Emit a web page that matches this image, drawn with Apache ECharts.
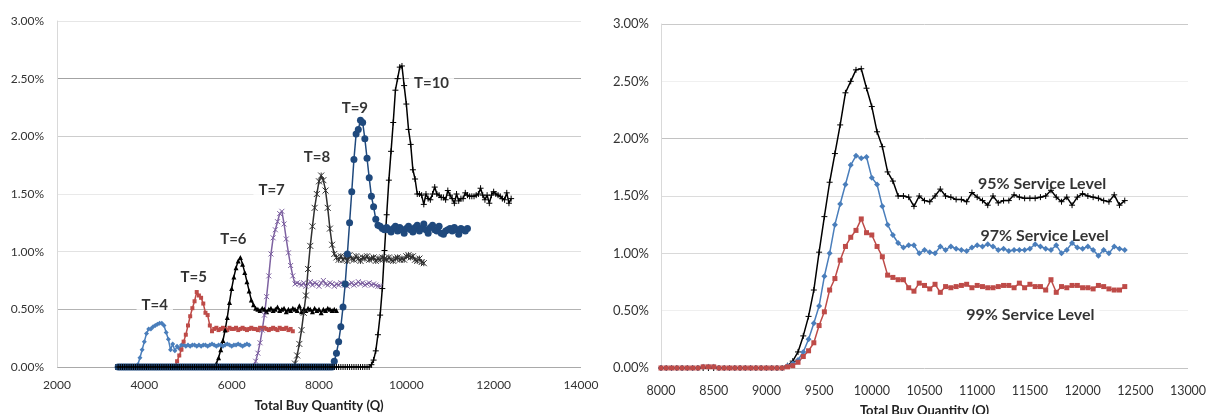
<!DOCTYPE html>
<html><head><meta charset="utf-8">
<script src="https://cdn.jsdelivr.net/npm/echarts@6/dist/echarts.min.js"></script>
<style>html,body{margin:0;padding:0;background:#fff}#c{width:1208px;height:414px}</style>
</head><body><div id="c"></div>
<script>
// ---------- DATA ----------
const STEP = 50;          // x spacing of the simulated points
const LEFT_START = 3400;  // first x of every T-series (left panel)
const RIGHT_START = 8000; // first x of the service-level series (right panel)

const tNames = ['T=4','T=5','T=6','T=7','T=8','T=9','T=10'];
const slNames = ['95% Service Level','97% Service Level','99% Service Level'];

const t4 = [
0,0,0,0,0,0,0,0,0,
0.02,0.08,0.15,0.22,0.29,0.33,0.33,0.35,0.36,0.37,0.38,0.38,0.36,0.30,0.24,0.15,0.20,0.14,0.18,0.16,0.19,0.19,
0.18,0.19,0.18,0.19,0.19,0.18,0.19,0.18,0.19,0.19,0.18,0.19,0.20,0.19,0.18,0.19,0.19,0.18,0.19,0.20,0.19,0.18,0.19,0.19,0.20,0.19,0.18,0.19,0.20,0.19];

const t5 = [
0,0,0,0,0,0,0,0,0,0,
0,0,0,0,0,0,0,0,0,0,
0,0,0,0,0,0,0,
0.05,0.10,0.15,0.22,0.28,0.36,0.44,0.51,0.57,0.65,0.62,0.60,0.55,0.47,0.45,0.36,0.31,0.33,
0.34,0.32,0.33,0.34,0.33,0.32,0.34,0.33,0.33,0.34,0.32,0.33,0.34,0.33,0.32,0.33,0.34,0.33,0.33,0.32,0.34,0.33,0.34,0.33,0.32,0.33,0.34,0.33,0.32,0.34,0.33,0.33,0.34,0.32,0.33,0.31];

const t6 = [
0,0,0,0,0,0,0,0,0,0,
0,0,0,0,0,0,0,0,0,0,
0,0,0,0,0,0,0,0,0,0,
0,0,0,0,0,0,0,0,0,0,
0,0,0,0,0,
0.03,0.08,0.15,0.23,0.32,0.43,0.56,0.68,0.78,0.86,0.92,0.95,0.89,0.82,0.74,0.66,0.58,0.54,0.51,0.50,
0.49,0.51,0.50,0.48,0.50,0.51,0.49,0.50,0.52,0.49,0.50,0.51,0.48,0.50,0.49,0.51,0.50,0.49,0.53,0.48,0.50,0.49,0.51,0.50,0.48,0.51,0.49,0.50,0.47,0.50,0.49,0.51,0.50,0.49,0.50,0.49];

const t7 = [
0,0,0,0,0,0,0,0,0,0,
0,0,0,0,0,0,0,0,0,0,
0,0,0,0,0,0,0,0,0,0,
0,0,0,0,0,0,0,0,0,0,
0,0,0,0,0,0,0,0,0,0,
0,0,0,0,0,0,0,0,0,0,
0,0,0,
0.05,0.12,0.21,0.32,0.45,0.61,0.79,0.98,1.12,1.19,1.26,1.33,1.35,1.24,1.11,0.99,0.88,0.79,0.72,0.73,
0.72,0.71,0.73,0.70,0.72,0.74,0.71,0.73,0.72,0.70,0.73,0.75,0.72,0.71,0.73,0.72,0.70,0.72,0.71,0.73,0.72,0.71,0.70,0.72,0.73,0.71,0.72,0.74,0.72,0.73,0.71,0.72,0.73,0.71,0.72,0.71,0.70,0.70];

const t8 = [
0,0,0,0,0,0,0,0,0,0,
0,0,0,0,0,0,0,0,0,0,
0,0,0,0,0,0,0,0,0,0,
0,0,0,0,0,0,0,0,0,0,
0,0,0,0,0,0,0,0,0,0,
0,0,0,0,0,0,0,0,0,0,
0,0,0,0,0,0,0,0,0,0,
0,0,0,0,0,0,0,0,0,0,
0,
0.03,0.10,0.20,0.32,0.47,0.62,0.85,1.05,1.22,1.38,1.50,1.61,1.66,1.62,1.53,1.38,1.20,1.06,0.98,0.95,0.93,
0.96,0.93,0.95,0.92,0.97,0.94,0.93,0.96,0.94,0.92,0.95,0.94,0.96,0.93,0.94,0.95,0.92,0.94,0.93,0.95,0.94,0.93,0.95,0.93,0.92,0.94,0.95,0.93,0.94,0.93,0.96,0.97,0.95,0.96,0.93,0.92,0.94,0.91,0.90];

const t9 = [
0,0,0,0,0,0,0,0,0,0,
0,0,0,0,0,0,0,0,0,0,
0,0,0,0,0,0,0,0,0,0,
0,0,0,0,0,0,0,0,0,0,
0,0,0,0,0,0,0,0,0,0,
0,0,0,0,0,0,0,0,0,0,
0,0,0,0,0,0,0,0,0,0,
0,0,0,0,0,0,0,0,0,0,
0,0,0,0,0,0,0,0,0,0,
0,0,0,0,0,0,0,0,0,
0.05,0.12,0.22,0.35,0.52,0.72,0.98,1.25,1.52,1.80,2.02,2.06,2.14,2.12,1.98,1.81,1.64,1.48,1.39,1.28,1.23,1.22,1.20,1.19,
1.21,1.19,1.17,1.20,1.22,1.18,1.21,1.19,1.16,1.20,1.22,1.19,1.17,1.21,1.23,1.18,1.20,1.24,1.19,1.16,1.21,1.23,1.19,1.18,1.22,1.16,1.15,1.18,1.19,1.20,1.18,1.21,1.19,1.15,1.20,1.19,1.18,1.20];

// zeros of T=10 from 3400 up to 7950; from 8000 on T=10 equals the 95% series
const t10Lead = [
0,0,0,0,0,0,0,0,0,0,
0,0,0,0,0,0,0,0,0,0,
0,0,0,0,0,0,0,0,0,0,
0,0,0,0,0,0,0,0,0,0,
0,0,0,0,0,0,0,0,0,0,
0,0,0,0,0,0,0,0,0,0,
0,0,0,0,0,0,0,0,0,0,
0,0,0,0,0,0,0,0,0,0,
0,0,0,0,0,0,0,0,0,0,
0,0];

const sl95 = [
0,0,0,0,0,0,0,0,0,0,
0,0,0,0,0,0,0,0,0,0,
0,0,0,0,
0.02,0.06,0.14,0.28,0.45,0.68,1.01,1.32,1.62,1.87,
2.12,2.40,2.50,2.60,2.61,2.44,2.28,2.06,1.93,1.71,
1.63,1.50,1.50,1.49,1.41,1.50,1.46,1.45,1.50,1.56,
1.50,1.49,1.47,1.47,1.45,1.53,1.49,1.46,1.42,1.50,
1.44,1.46,1.46,1.51,1.49,1.48,1.48,1.48,1.49,1.50,
1.55,1.49,1.45,1.49,1.42,1.49,1.52,1.50,1.49,1.48,
1.46,1.45,1.51,1.42,1.46];

const sl97 = [
0,0,0,0,0,0,0,0,0.01,0.01,
0.01,0,0,0,0,0,0,0,0,0,
0,0,0,0,
0.02,0.04,0.07,0.14,0.25,0.39,0.54,0.80,1.00,1.25,
1.43,1.60,1.77,1.85,1.83,1.84,1.66,1.60,1.41,1.25,
1.16,1.09,1.05,1.07,1.07,1.00,1.03,1.01,1.00,1.06,
1.03,1.06,1.04,1.03,1.02,1.05,1.07,1.06,1.08,1.06,
1.03,1.04,1.02,1.03,1.03,1.03,1.04,1.08,1.06,1.04,
1.03,1.07,1.00,1.03,1.09,1.05,1.04,1.06,1.03,0.98,
1.03,1.00,1.06,1.04,1.03];

const sl99 = [
0,0,0,0,0,0,0,0,0.01,0.01,
0.01,0,0,0,0,0,0,0,0,0,
0,0,0,0,
0.01,0.02,0.05,0.10,0.15,0.22,0.37,0.49,0.68,0.78,
0.94,1.06,1.14,1.20,1.30,1.18,1.16,1.06,0.97,0.81,
0.79,0.77,0.77,0.70,0.67,0.74,0.72,0.69,0.73,0.66,
0.71,0.70,0.71,0.72,0.73,0.70,0.72,0.71,0.70,0.70,
0.71,0.72,0.72,0.70,0.74,0.70,0.73,0.71,0.71,0.68,
0.77,0.66,0.71,0.70,0.72,0.72,0.70,0.70,0.69,0.72,
0.71,0.69,0.68,0.68,0.71];

// ---------- CHART ----------
const FONT = 'Lato, "Liberation Sans", sans-serif';
function pairs(arr, start){ return arr.map((v,i)=>[start + i*STEP, v]); }
const t10 = t10Lead.concat(sl95);

const SYM_PLUS = 'path://M5,0L5,10M0,5L10,5';
const SYM_X = 'path://M0,0L10,10M10,0L0,10';
const SYM_STAR = 'path://M0,0L10,10M10,0L0,10M5,0L5,10';

function line(name, data, start, color, symbol, size, g, stroke){
  return {
    type:'line', name, xAxisIndex:g, yAxisIndex:g, data: pairs(data, start),
    symbol, symbolSize:size, showSymbol:true, showAllSymbol:true, silent:true,
    lineStyle:{color, width:1.5}, z:2,
    itemStyle: stroke ? {color, borderColor:color, borderWidth:1} : {color, borderWidth:0},
    emphasis:{disabled:true}, animation:false
  };
}

const leftSeriesDefs = [
  [t4, '#4a7ebb', 'diamond', 5, false],
  [t5, '#be4b48', 'rect', 4, false],
  [t6, '#000000', 'triangle', 5, false],
  [t7, '#7e62a1', SYM_X, 5, true],
  [t8, '#303030', SYM_STAR, 6, true],
  [t9, '#1f497d', 'circle', 7, false],
  [t10, '#000000', SYM_PLUS, 6, true]
];
const rightSeriesDefs = [
  [sl95, '#000000', SYM_PLUS, 6, true],
  [sl97, '#4a7ebb', 'diamond', 6, false],
  [sl99, '#be4b48', 'rect', 5, false]
];

// label anchors in data units
const leftLabelAt = [[4239,0.535],[5133,0.778],[6039,1.108],[6915,1.533],[7954,1.819],[8821,2.244],[10576,2.461]];
const rightLabelAt = [[11615,1.603],[11640,1.156],[11505,0.463]];

function labelSeries(g, anchors, names, fs){
  return {
    type:'scatter', xAxisIndex:g, yAxisIndex:g, z:1, silent:true, animation:false,
    symbolSize:1, itemStyle:{color:'rgba(0,0,0,0)'},
    data: anchors.map((p,i)=>[p[0], p[1], names[i]]),
    label:{show:true, position:'inside', formatter:p=>p.data[2],
      fontFamily:FONT, fontWeight:'bold', fontSize:fs, color:'#000',
      backgroundColor:'#fff', padding:[3,5]}
  };
}

function yAxis(g, colors, fs, margin){
  return {
    type:'value', gridIndex:g, min:0, max:3, interval:0.5,
    axisLine:{show:true, lineStyle:{color:'#d9d9d9'}}, axisTick:{show:false},
    axisLabel:{formatter:v=>v.toFixed(2)+'%', fontFamily:FONT, fontSize:fs, color:'#333', margin},
    splitLine:{show:true, lineStyle:{color:colors, width:1}}
  };
}
function xAxis(g, min, max, interval, fs, margin, gap){
  return {
    type:'value', gridIndex:g, min, max, interval,
    axisLine:{show:false}, axisTick:{show:false}, splitLine:{show:false},
    axisLabel:{formatter:v=>String(v), fontFamily:FONT, fontSize:fs, color:'#333', margin},
    name:'Total Buy Quantity (Q)', nameLocation:'middle', nameGap:gap,
    nameTextStyle:{fontFamily:FONT, fontWeight:'bold', fontSize:13, color:'#222'}
  };
}

const option = {
  animation:false,
  grid:[
    {left:57, top:21, width:524, height:346, containLabel:false, outerBoundsMode:'none'},
    {left:661, top:24, width:527, height:344, containLabel:false, outerBoundsMode:'none'}
  ],
  xAxis:[ xAxis(0, 2000, 14000, 2000, 12, 12, 32), xAxis(1, 8000, 13000, 500, 12.5, 16, 36) ],
  yAxis:[
    yAxis(0, ['#a9a9a9','#b3b3b3','#e2e2e2','#e9e9e9','#cdcdcd','#a3a3a3','#e6e6e6'], 12, 13),
    yAxis(1, ['#c4c4c4','#efefef','#d9d9d9','#dcdcdc','#c2c2c2','#f0f0f0','#cacaca'], 13, 12)
  ],
  series:[
    ...leftSeriesDefs.map((d,i)=>line(tNames[i], d[0], LEFT_START, d[1], d[2], d[3], 0, d[4])),
    ...rightSeriesDefs.map((d,i)=>line(slNames[i], d[0], RIGHT_START, d[1], d[2], d[3], 1, d[4])),
    labelSeries(0, leftLabelAt, tNames, 15),
    labelSeries(1, rightLabelAt, slNames, 16)
  ]
};
const chart = echarts.init(document.getElementById('c'), null, {renderer:'canvas'});
chart.setOption(option);
</script></body></html>
